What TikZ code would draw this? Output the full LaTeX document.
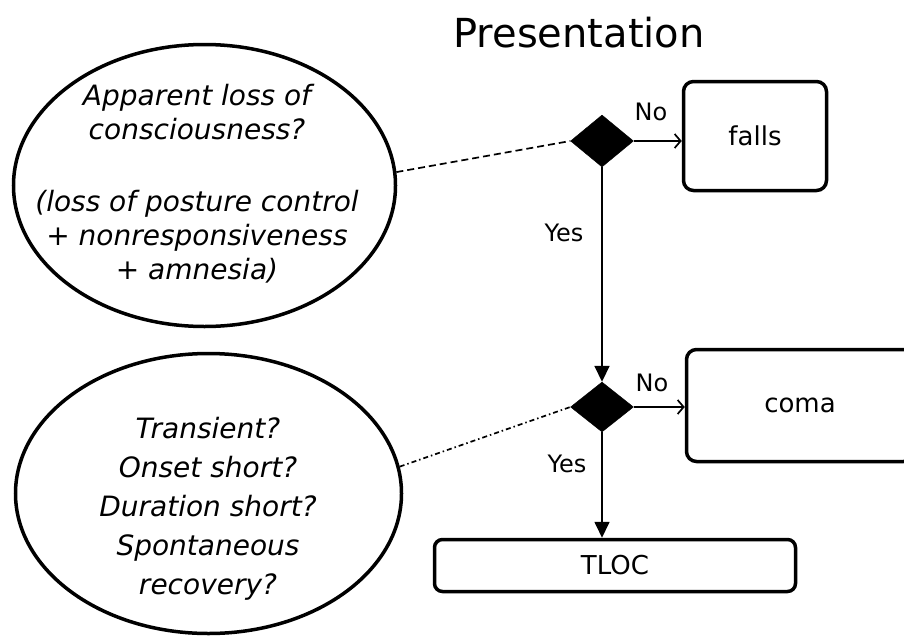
\documentclass[tikz,border=0pt]{standalone}
\usepackage{fontspec}
\setmainfont{DejaVu Sans}
\usetikzlibrary{
    shapes.geometric,
    arrows.meta,
    positioning
}

\begin{document}
\begin{tikzpicture}[x=1pt, y=-1pt,
    bubble/.style={ellipse, draw=black, line width=3.5pt, inner sep=0pt},
    bubbletext/.style={align=center, inner sep=0pt, font=\itshape\fontsize{28}{34}\selectfont},
    decision/.style={diamond, draw=black, fill=black, inner sep=0pt, minimum width=63pt, minimum height=52pt},
    outcome/.style={draw=black, line width=3.5pt, rounded corners=10pt, font=\fontsize{26}{30}\selectfont},
    answer/.style={inner sep=0pt, font=\fontsize{24}{28}\selectfont},
    link/.style={draw=black, line width=1.7pt},
    open tip/.style={-{Straight Barb[length=6pt, width=14pt, line width=1.7pt]}},
    solid tip/.style={-{Triangle[length=16pt, width=15pt]}}
    ]
                        \useasboundingbox (0,0) rectangle (904,637);
                        \node[font=\fontsize{40}{48}\selectfont] (title) at (579, 33) {Presentation};
                        \node[bubble, minimum width=382pt, minimum height=282pt] (q1) at (204.5, 185.5) {};
                        \node[bubbletext] (q1text) at (197, 183.5) {Apparent loss of\\consciousness?\\[38pt](loss of posture control\\+ nonresponsiveness\\+ amnesia)};
                        \node[bubble, minimum width=386pt, minimum height=280pt] (q2) at (208.5, 493.5) {};
                        \node[bubbletext, font=\itshape\fontsize{28}{39}\selectfont] (q2text) at (208, 509) {Transient?\\Onset short?\\Duration short?\\Spontaneous\\recovery?};
                        \node[decision] (d1) at (602, 141) {};
                        \node[decision, minimum height=50pt] (d2) at (602, 407) {};
                        \node[outcome, minimum width=143pt, minimum height=109pt] (falls) at (755, 136) {falls};
                        \node[outcome, minimum width=227pt, minimum height=112pt] (coma) at (800, 405.5) {coma};
                        \node[outcome, rounded corners=8pt, minimum width=361pt, minimum height=52pt] (tloc) at (615, 565.5) {TLOC};
                        \node[answer] (no1) at (651, 112) {No};
                        \node[answer] (yes1) at (564, 233) {Yes};
                        \node[answer] (no2) at (652, 383) {No};
                        \node[answer] (yes2) at (567, 464) {Yes};
                        \draw[link, open tip] (d1.east) -- (d1.east -| falls.west);
                        \draw[link, solid tip] (d1.south) -- (d2.north);
                        \draw[link, open tip] (d2.east) -- (d2.east -| coma.west);
                        \draw[link, solid tip] (d2.south) -- (d2.south |- tloc.north);
                        \draw[link, dash pattern=on 7pt off 4pt] (q1.4) -- (d1.west);
                        \draw[link, dash pattern=on 5pt off 3pt on 1.5pt off 3pt] (q2.8.6) -- (d2.west);
                    \end{tikzpicture}
\end{document}
